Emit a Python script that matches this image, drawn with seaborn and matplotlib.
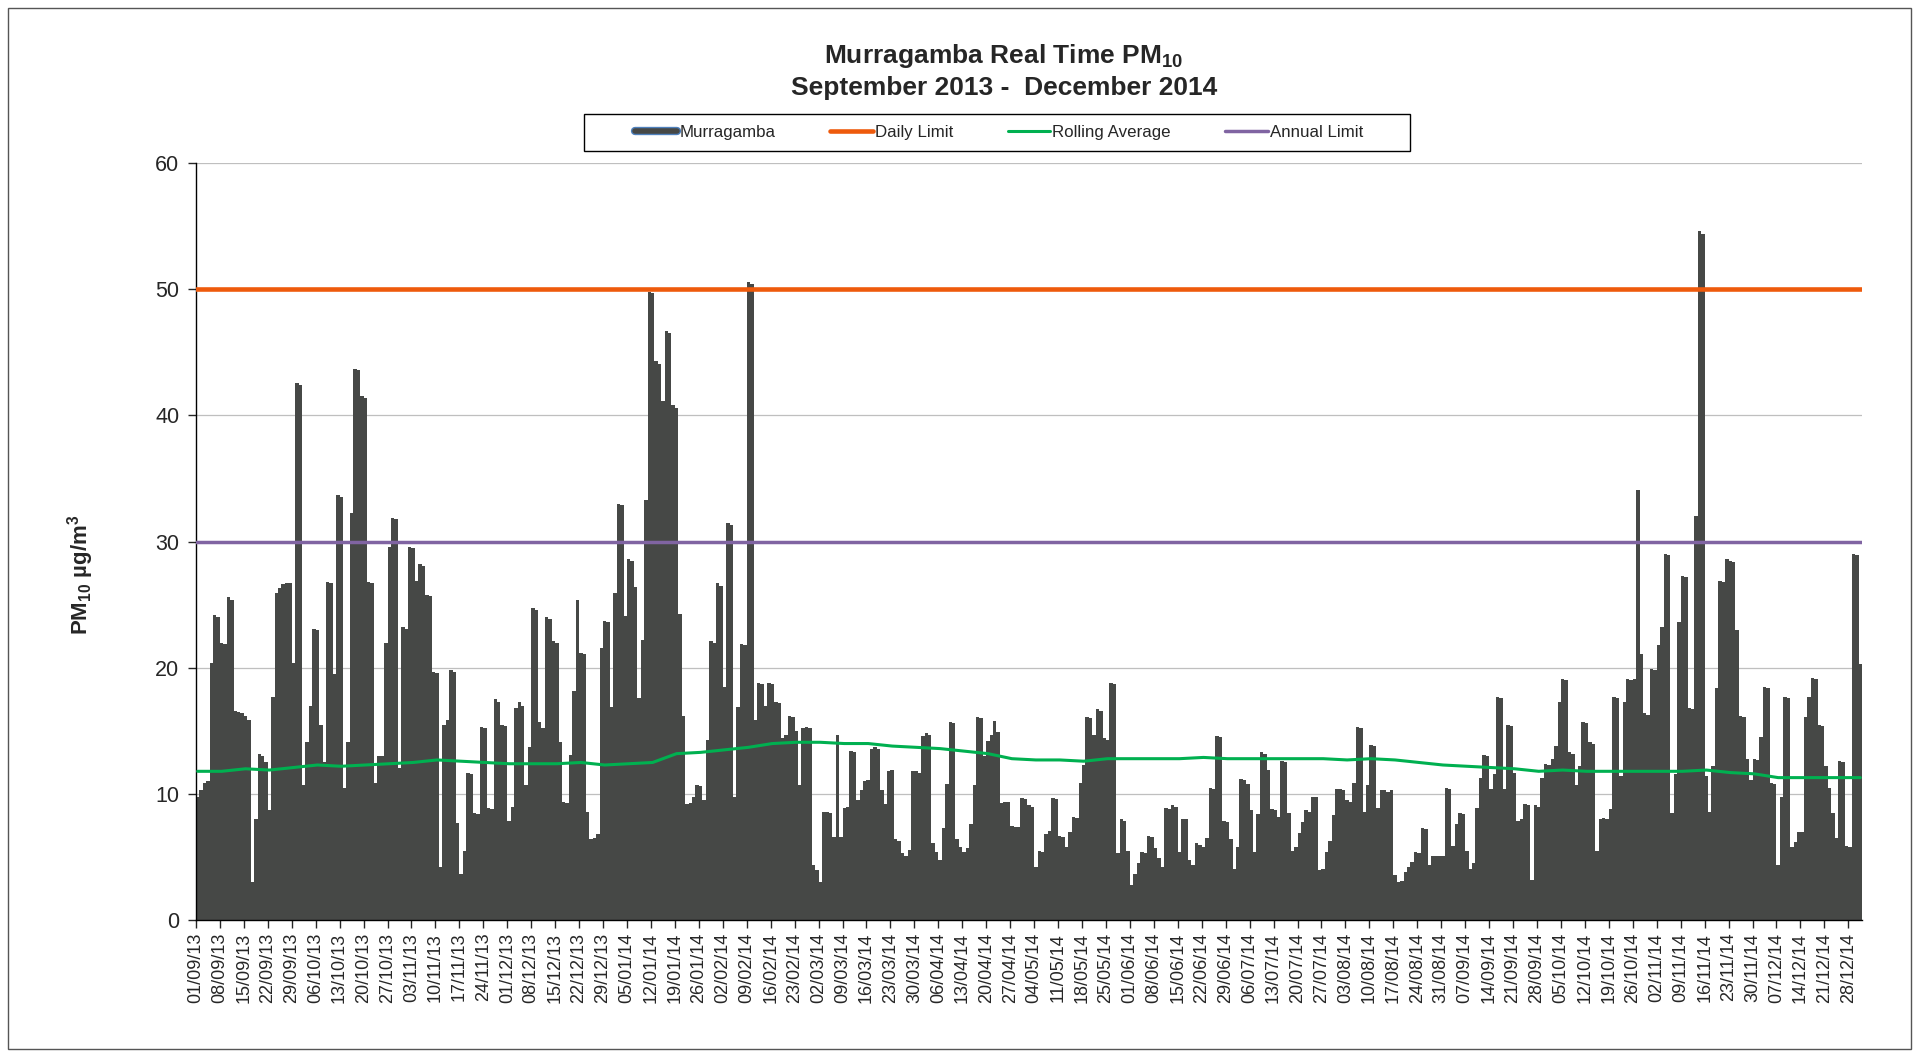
import numpy as np
import pandas as pd
import matplotlib
matplotlib.use("Agg")
import matplotlib.pyplot as plt
import matplotlib.patheffects as pe
from matplotlib.lines import Line2D
from matplotlib.patches import Rectangle
import seaborn as sns

# Daily PM10 (ug/m3), one list per month
sep13 = [9.8, 10.3, 10.9, 11.0, 20.4, 24.2, 24.0, 22.0, 21.9, 25.6,
         25.4, 16.6, 16.5, 16.4, 16.2, 15.9, 3.0, 8.0, 13.2, 13.0,
         12.5, 8.7, 17.7, 25.9, 26.3, 26.6, 26.7, 26.7, 20.4, 42.6]
oct13 = [42.4, 10.7, 14.1, 17.0, 23.1, 23.0, 15.5, 12.5, 26.8, 26.7,
         19.5, 33.7, 33.5, 10.5, 14.1, 32.3, 43.7, 43.6, 41.5, 41.4,
         26.8, 26.7, 10.9, 13.0, 13.0, 22.0, 29.6, 31.9, 31.8, 12.1, 23.2]
nov13 = [23.1, 29.6, 29.5, 26.9, 28.2, 28.1, 25.8, 25.7, 19.7, 19.6,
         4.2, 15.5, 15.9, 19.8, 19.7, 7.7, 3.7, 5.5, 11.7, 11.6,
         8.5, 8.4, 15.3, 15.2, 8.9, 8.8, 17.5, 17.3, 15.5, 15.4]
dec13 = [7.9, 9.0, 16.8, 17.3, 17.0, 10.7, 13.7, 24.7, 24.6, 15.7,
         15.2, 24.0, 23.9, 22.1, 22.0, 14.1, 9.4, 9.3, 13.1, 18.2,
         25.4, 21.2, 21.1, 8.6, 6.4, 6.5, 6.8, 21.6, 23.7, 23.6, 16.9]
jan14 = [25.9, 33.0, 32.9, 24.1, 28.6, 28.5, 26.4, 17.6, 22.2, 33.3,
         49.8, 49.7, 44.3, 44.1, 41.1, 46.7, 46.5, 40.8, 40.6, 24.3,
         16.2, 9.2, 9.3, 9.8, 10.7, 10.6, 9.5, 14.3, 22.1, 22.0, 26.7]
feb14 = [26.5, 18.5, 31.5, 31.3, 9.8, 16.9, 21.9, 21.8, 50.6, 50.4,
         15.9, 18.8, 18.7, 17.0, 18.8, 18.7, 17.3, 17.2, 14.4, 14.7,
         16.2, 16.1, 15.0, 10.7, 15.2, 15.3, 15.2, 4.4]
mar14 = [4.0, 3.0, 8.6, 8.6, 8.5, 6.6, 14.7, 6.6, 8.9, 9.0,
         13.4, 13.3, 9.5, 10.3, 11.0, 11.1, 13.6, 13.7, 13.6, 10.3,
         9.2, 11.8, 11.9, 6.4, 6.3, 5.3, 5.1, 5.6, 11.8, 11.8, 11.7]
apr14 = [14.6, 14.8, 14.7, 6.1, 5.4, 4.8, 7.3, 10.8, 15.7, 15.6,
         6.4, 5.8, 5.4, 5.7, 7.6, 10.7, 16.1, 16.0, 13.0, 14.2,
         14.7, 15.8, 14.9, 9.3, 9.4, 9.4, 7.5, 7.4, 7.4, 9.7]
may14 = [9.6, 9.1, 9.0, 4.2, 5.5, 5.4, 6.8, 7.1, 9.7, 9.6,
         6.7, 6.6, 5.8, 7.0, 8.2, 8.1, 10.9, 12.3, 16.1, 16.0,
         14.7, 16.7, 16.6, 14.4, 14.3, 18.8, 18.7, 5.3, 8.0, 7.9, 5.5]
jun14 = [2.8, 3.7, 4.5, 5.4, 5.3, 6.7, 6.6, 5.7, 4.9, 4.2,
         8.9, 8.8, 9.1, 9.0, 5.4, 8.0, 8.0, 4.8, 4.4, 6.1,
         6.0, 5.8, 6.5, 10.5, 10.4, 14.6, 14.5, 7.9, 7.8, 6.4]
jul14 = [4.1, 5.8, 11.2, 11.1, 10.8, 8.7, 5.4, 8.4, 13.3, 13.2,
         11.9, 8.8, 8.7, 8.2, 12.6, 12.5, 8.5, 5.5, 5.8, 6.9,
         7.8, 8.7, 8.6, 9.8, 9.8, 4.0, 4.1, 5.4, 6.3, 8.3, 10.4]
aug14 = [10.4, 10.3, 9.5, 9.4, 10.9, 15.3, 15.2, 8.6, 10.7, 13.9,
         13.8, 8.9, 10.3, 10.3, 10.2, 10.3, 3.6, 3.0, 3.1, 3.8,
         4.2, 4.6, 5.4, 5.3, 7.3, 7.2, 4.4, 5.1, 5.1, 5.1, 5.1]
sep14 = [10.5, 10.4, 5.9, 7.6, 8.5, 8.4, 5.5, 4.1, 4.5, 8.9,
         11.3, 13.1, 13.0, 10.4, 11.6, 17.7, 17.6, 10.4, 15.5, 15.4,
         11.7, 7.9, 8.0, 9.2, 9.1, 3.2, 9.1, 9.0, 11.3, 12.4]
oct14 = [12.3, 12.8, 13.8, 17.3, 19.1, 19.0, 13.3, 13.2, 10.7, 12.2,
         15.7, 15.6, 14.1, 14.0, 5.5, 8.0, 8.1, 8.0, 8.8, 17.7,
         17.6, 11.4, 17.3, 19.1, 19.0, 19.1, 34.1, 21.1, 16.4, 16.3, 19.9]
nov14 = [19.8, 21.8, 23.2, 29.0, 28.9, 8.5, 11.6, 23.6, 27.3, 27.2,
         16.8, 16.7, 32.0, 54.6, 54.4, 11.4, 8.6, 12.2, 18.4, 26.9,
         26.8, 28.6, 28.5, 28.4, 23.0, 16.2, 16.1, 12.8, 11.1, 12.8]
dec14 = [12.7, 14.5, 18.5, 18.4, 10.9, 10.8, 4.4, 9.8, 17.7, 17.6,
         5.8, 6.2, 7.0, 7.0, 16.1, 17.7, 19.2, 19.1, 15.5, 15.4,
         12.2, 10.5, 8.5, 6.5, 12.6, 12.5, 5.9, 5.8, 29.0, 28.9, 20.3]

# Rolling average read at every weekly tick, plus the last day
rolling_dates = list(pd.date_range("2013-09-01", "2014-12-28", freq="7D")) + [pd.Timestamp("2014-12-31")]
rolling_avg = [11.8, 11.8, 12.0, 11.9, 12.1, 12.3, 12.2, 12.3, 12.4, 12.5,
               12.7, 12.6, 12.5, 12.4, 12.4, 12.4, 12.5, 12.3, 12.4, 12.5,
               13.2, 13.3, 13.5, 13.7, 14.0, 14.1, 14.1, 14.0, 14.0, 13.8,
               13.7, 13.6, 13.4, 13.2, 12.8, 12.7, 12.7, 12.6, 12.8, 12.8,
               12.8, 12.8, 12.9, 12.8, 12.8, 12.8, 12.8, 12.8, 12.7, 12.8,
               12.7, 12.5, 12.3, 12.2, 12.1, 12.0, 11.8, 11.9, 11.8, 11.8,
               11.8, 11.8, 11.8, 11.9, 11.7, 11.6, 11.3, 11.3, 11.3, 11.3,
               11.3]

daily_limit = 50
annual_limit = 30

bar_color = "#464846"
daily_color = "#EE5A0C"
rolling_color = "#00B050"
annual_color = "#8064A2"

months = [sep13, oct13, nov13, dec13, jan14, feb14, mar14, apr14,
          may14, jun14, jul14, aug14, sep14, oct14, nov14, dec14]
pm10 = np.concatenate(months)
dates = pd.date_range("2013-09-01", periods=len(pm10), freq="D")
day = (dates - dates[0]).days.values

df = pd.DataFrame({"day": day + 0.5, "pm10": pm10})
roll_x = [(d - dates[0]).days + 0.5 for d in rolling_dates]

sns.set_theme(style="white")
plt.rcParams["font.family"] = ["Liberation Sans", "DejaVu Sans"]
plt.rcParams["mathtext.fontset"] = "custom"
plt.rcParams["mathtext.rm"] = "Liberation Sans:bold"
plt.rcParams["mathtext.bf"] = "Liberation Sans:bold"
plt.rcParams["mathtext.default"] = "bf"

fig = plt.figure(figsize=(19.19, 10.51), dpi=100)
ax = fig.add_axes([0.1021, 0.1244, 0.8682, 0.7206])

sns.barplot(data=df, x="day", y="pm10", native_scale=True, width=1,
            color=bar_color, saturation=1, linewidth=0, errorbar=None, ax=ax)
ax.axhline(daily_limit, color=daily_color, lw=3.3, zorder=4)
ax.axhline(annual_limit, color=annual_color, lw=2.5, zorder=4)
sns.lineplot(x=roll_x, y=rolling_avg, color=rolling_color, lw=2.2, ax=ax, zorder=5)

ax.set_xlim(0, len(pm10))
ax.set_ylim(0, 60)
ax.set_yticks(range(0, 61, 10))
ax.tick_params(axis="y", labelsize=15.5, length=6, width=1, direction="out", left=True, pad=6)
ticks = day[::7]
ax.set_xticks(ticks)
ax.set_xticklabels(dates[::7].strftime("%d/%m/%y"), rotation=90, fontsize=13)
ax.tick_params(axis="x", length=6, width=1, direction="out", bottom=True, pad=3)
ax.yaxis.grid(True, color="#BFBFBF", lw=0.9)
ax.set_axisbelow(True)
for s in ["top", "right"]:
    ax.spines[s].set_visible(False)
for s in ["left", "bottom"]:
    ax.spines[s].set_color("black")
    ax.spines[s].set_linewidth(1)
ax.set_xlabel("")
ax.set_ylabel("")

fig.text(0.523, 0.947, "Murragamba Real Time PM$_{10}$", ha="center", va="center",
         fontsize=19, fontweight="bold")
fig.text(0.523, 0.916, "September 2013 -  December 2014", ha="center", va="center",
         fontsize=19, fontweight="bold")
fig.text(0.042, 0.453, "PM$_{10}$ µg/m$^{3}$", rotation=90, ha="center", va="center",
         fontsize=16, fontweight="bold")

handles = [
    Line2D([], [], color=bar_color, lw=4,
           path_effects=[pe.Stroke(linewidth=6, foreground="#4F81BD"), pe.Normal()]),
    Line2D([], [], color=daily_color, lw=3.3),
    Line2D([], [], color=rolling_color, lw=2.2),
    Line2D([], [], color=annual_color, lw=2.5),
]
labels = ["Murragamba", "Daily Limit", "Rolling Average", "Annual Limit"]
fig.legend(handles, labels, loc="center", bbox_to_anchor=(0.5207, 0.874), ncol=4,
           frameon=False, fontsize=12.2, handlelength=2.5, columnspacing=3.2,
           handletextpad=0.15)
# legend box as drawn in the original
fig.add_artist(Rectangle((0.3042, 0.8568), 0.4305, 0.0349, transform=fig.transFigure,
                         fill=False, edgecolor="black", lw=1))

fig.add_artist(Rectangle((0.004, 0.002), 0.992, 0.99, transform=fig.transFigure,
                         fill=False, edgecolor="#555555", lw=1))

fig.savefig("out.png", dpi=100)
